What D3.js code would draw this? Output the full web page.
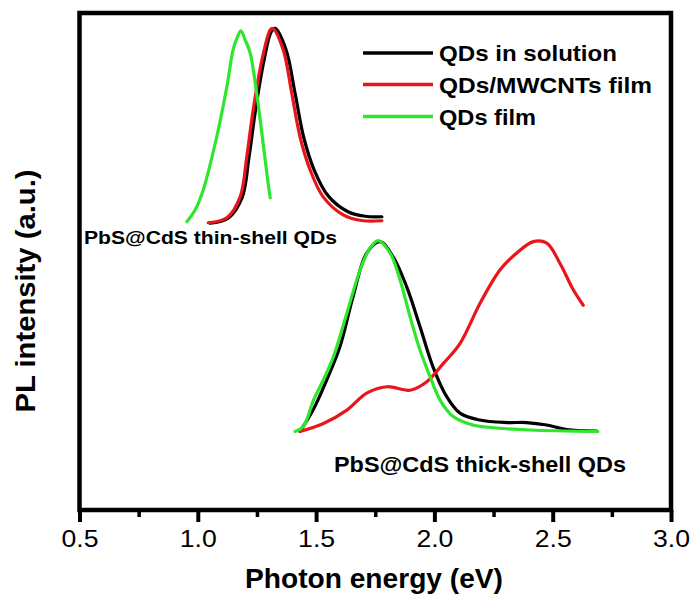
<!DOCTYPE html>
<html>
<head>
<meta charset="utf-8">
<script src="https://cdn.jsdelivr.net/npm/d3@7"></script>
<style>
  html, body { margin: 0; padding: 0; background: #fff; }
  svg { display: block; }
  text { font-family: "Liberation Sans", Arial, sans-serif; fill: #000; }
</style>
</head>
<body>
<svg id="chart" width="692" height="595"></svg>
<script>
// ---- data (photon energy in eV, PL intensity in a.u.) ----
const thinSolutionX = [1.052,1.128,1.187,1.216,1.244,1.280,1.310,1.327,1.373,1.411,1.447,1.492,1.551,1.635,1.707,1.778];
const thinSolutionY = [57.7,58.7,62.8,70.8,80.5,90.5,96.2,96.9,92.6,83.9,75.1,68.4,63.2,60.0,59.1,59.0];

const thinMwcntX = [1.044,1.123,1.179,1.207,1.234,1.271,1.306,1.317,1.361,1.397,1.432,1.475,1.530,1.614,1.699,1.778];
const thinMwcntY = [57.8,58.8,63.0,71.1,80.5,90.5,96.6,96.9,92.6,83.9,75.1,68.4,63.0,59.4,58.2,58.2];

const thinFilmX = [0.954,0.989,1.023,1.080,1.123,1.149,1.166,1.182,1.200,1.221,1.251,1.276,1.297,1.306];
const thinFilmY = [58.0,60.4,64.4,75.1,85.2,92.6,95.0,96.4,94.6,92.0,83.1,73.8,65.8,62.8];

const thickSolutionX = [1.432,1.487,1.545,1.601,1.656,1.714,1.770,1.825,1.883,1.939,1.994,2.052,2.108,2.192,2.306,2.390,2.475,2.559,2.686];
const thickSolutionY = [15.8,20.1,26.2,32.9,42.9,51.7,54.0,51.0,44.9,36.9,28.8,22.8,19.5,18.1,17.6,17.6,17.1,16.2,15.9];

const thickMwcntX = [1.432,1.531,1.630,1.714,1.799,1.897,1.968,2.038,2.108,2.193,2.277,2.348,2.418,2.475,2.531,2.587,2.629];
const thickMwcntY = [15.8,17.4,20.1,23.5,24.8,24.1,25.8,29.5,33.5,41.6,48.3,51.7,54.0,53.7,49.6,44.3,41.2];

const thickFilmX = [1.411,1.446,1.489,1.531,1.573,1.630,1.686,1.728,1.763,1.813,1.855,1.897,1.939,1.982,2.024,2.079,2.163,2.263,2.404,2.691];
const thickFilmY = [15.8,16.8,22.1,26.2,30.8,39.6,48.3,52.7,54.2,51.7,46.3,38.9,32.2,26.8,22.1,18.8,17.1,16.5,16.1,15.8];

const seriesNames = ["QDs in solution", "QDs/MWCNTs film", "QDs film"];
const seriesColors = ["#000000", "#e8161b", "#2ee62e"];
const xTicks = [0.5, 1.0, 1.5, 2.0, 2.5, 3.0];
const xMinorTicks = [0.75, 1.25, 1.75, 2.25, 2.75];
const xTitle = "Photon energy (eV)";
const yTitle = "PL intensity (a.u.)";
const thinLabel = "PbS@CdS thin-shell QDs";
const thickLabel = "PbS@CdS thick-shell QDs";

// ---- layout ----
const svg = d3.select("#chart");
const L = 79.5, R = 671, T = 13, B = 510;
const x = d3.scaleLinear().domain([0.5, 3.0]).range([L, R]);
const y = d3.scaleLinear().domain([0, 100]).range([B, T]);

const zip = (xs, ys) => xs.map((v, i) => [v, ys[i]]);
const curves = [
  { d: zip(thinSolutionX, thinSolutionY), c: 0 },
  { d: zip(thickSolutionX, thickSolutionY), c: 0 },
  { d: zip(thinMwcntX, thinMwcntY), c: 1 },
  { d: zip(thickMwcntX, thickMwcntY), c: 1 },
  { d: zip(thinFilmX, thinFilmY), c: 2 },
  { d: zip(thickFilmX, thickFilmY), c: 2 }
];

const line = d3.line()
  .x(d => x(d[0]))
  .y(d => y(d[1]))
  .curve(d3.curveCatmullRom.alpha(0.5));

svg.append("g").selectAll("path")
  .data(curves)
  .join("path")
  .attr("d", d => line(d.d))
  .attr("fill", "none")
  .attr("stroke", d => seriesColors[d.c])
  .attr("stroke-width", 3.2)
  .attr("stroke-linejoin", "round")
  .attr("stroke-linecap", "round");

// ---- frame ----
svg.append("rect")
  .attr("x", L).attr("y", T)
  .attr("width", R - L).attr("height", B - T)
  .attr("fill", "none")
  .attr("stroke", "#000")
  .attr("stroke-width", 4.5);

// ---- x axis ----
const gx = svg.append("g").attr("transform", `translate(0,${B})`)
  .call(d3.axisBottom(x).tickValues(xTicks).tickSize(12).tickFormat(d3.format(".1f")));
gx.select(".domain").remove();
gx.selectAll(".tick line").attr("stroke", "#000").attr("stroke-width", 4);
gx.selectAll(".tick text")
  .attr("y", 37).attr("dy", 0)
  .style("font-size", "24px")
  .attr("textLength", 37)
  .attr("lengthAdjust", "spacingAndGlyphs");

const gxm = svg.append("g").attr("transform", `translate(0,${B})`)
  .call(d3.axisBottom(x).tickValues(xMinorTicks).tickSize(7).tickFormat(""));
gxm.select(".domain").remove();
gxm.selectAll(".tick line").attr("stroke", "#000").attr("stroke-width", 3.5);

// ---- titles ----
svg.append("text")
  .attr("x", 374).attr("y", 588)
  .attr("text-anchor", "middle")
  .style("font-size", "28px").style("font-weight", "bold")
  .attr("textLength", 258).attr("lengthAdjust", "spacingAndGlyphs")
  .text(xTitle);

svg.append("text")
  .attr("transform", "translate(35,291) rotate(-90)")
  .attr("text-anchor", "middle")
  .style("font-size", "28px").style("font-weight", "bold")
  .attr("textLength", 243).attr("lengthAdjust", "spacingAndGlyphs")
  .text(yTitle);

// ---- annotations ----
svg.append("text")
  .attr("x", 84).attr("y", 243.5)
  .style("font-size", "19px").style("font-weight", "bold")
  .attr("textLength", 253).attr("lengthAdjust", "spacingAndGlyphs")
  .text(thinLabel);

svg.append("text")
  .attr("x", 334).attr("y", 471.5)
  .style("font-size", "21.5px").style("font-weight", "bold")
  .attr("textLength", 292).attr("lengthAdjust", "spacingAndGlyphs")
  .text(thickLabel);

// ---- legend ----
const legendY = [53, 84.5, 116.5];
const legendLen = [178, 213, 97];
const lg = svg.append("g");
seriesNames.forEach((name, i) => {
  lg.append("line")
    .attr("x1", 363).attr("x2", 433)
    .attr("y1", legendY[i]).attr("y2", legendY[i])
    .attr("stroke", seriesColors[i]).attr("stroke-width", 3.5);
  lg.append("text")
    .attr("x", 439).attr("y", legendY[i] + 8)
    .style("font-size", "21.5px").style("font-weight", "bold")
    .attr("textLength", legendLen[i]).attr("lengthAdjust", "spacingAndGlyphs")
    .text(name);
});
</script>
</body>
</html>
